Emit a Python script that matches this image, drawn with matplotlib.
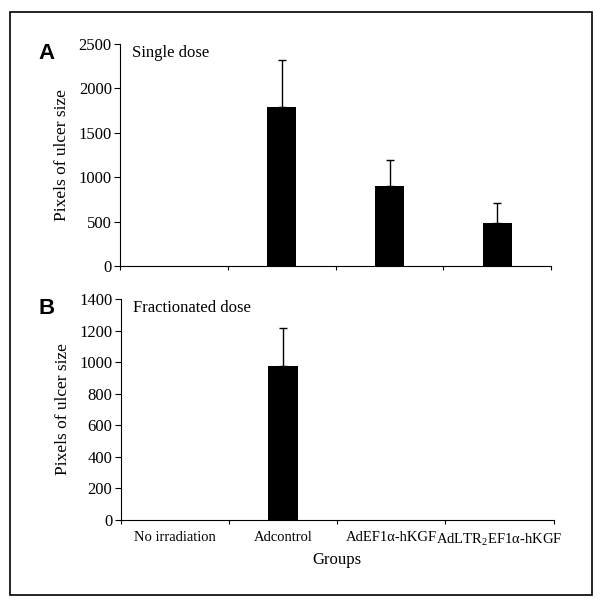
import numpy as np
from matplotlib import pyplot as plt
from matplotlib.patches import Rectangle

plt.rcParams["font.family"] = ["Liberation Serif", "DejaVu Serif"]
plt.rcParams["mathtext.fontset"] = "custom"
plt.rcParams["mathtext.rm"] = "Liberation Serif"

groups = ["No irradiation", "Adcontrol", "AdEF1α-hKGF", r"AdLTR$_2$EF1α-hKGF"]
single_mean = [0, 1790, 900, 485]
single_err = [0, 525, 295, 220]
fract_mean = [0, 978, 0, 0]
fract_err = [0, 238, 0, 0]


def plot_panel(ax, means, errs, ymax, ystep, title, letter, show_labels):
    """
    Draws one bar panel with upper-only error bars.
    """
    x = np.arange(len(groups))
    shown = [i for i, m in enumerate(means) if m > 0]
    ax.bar(x[shown], [means[i] for i in shown], width=0.27, color="black")
    ax.errorbar(x[shown], [means[i] for i in shown],
                yerr=[[0] * len(shown), [errs[i] for i in shown]],
                fmt="none", ecolor="black", elinewidth=1, capsize=3, capthick=1)
    ax.set_xlim(-0.5, len(groups) - 0.5)
    ax.set_ylim(0, ymax)
    ax.set_yticks(np.arange(0, ymax + 1, ystep))
    ax.tick_params(axis="y", labelsize=12, direction="out", length=4, pad=2)
    ax.set_xticks(np.arange(len(groups) + 1) - 0.5)
    ax.set_xticklabels([])
    ax.tick_params(axis="x", direction="out", length=3)
    if show_labels:
        ax.set_xticks(x, minor=True)
        ax.set_xticklabels(groups, minor=True, fontsize=10.5)
        ax.tick_params(axis="x", which="minor", length=0, pad=8)
        ax.set_xlabel("Groups", fontsize=12, labelpad=3)
    for side in ["top", "right"]:
        ax.spines[side].set_visible(False)
    ax.set_ylabel("Pixels of ulcer size", fontsize=12.5, labelpad=6)
    ax.text(0.028, 0.995, title, transform=ax.transAxes, fontsize=12,
            va="top", ha="left")
    ax.text(-0.19, 1.005, letter, transform=ax.transAxes, fontsize=16,
            fontweight="bold", family="Liberation Sans", va="top", ha="left")


fig = plt.figure(figsize=(6.01, 6.07), dpi=100)
ax1 = fig.add_axes([0.200, 0.5618, 0.717, 0.3657])
ax2 = fig.add_axes([0.201, 0.1433, 0.720, 0.364])

plot_panel(ax1, single_mean, single_err, 2500, 500, "Single dose", "A", False)
plot_panel(ax2, fract_mean, fract_err, 1400, 200, "Fractionated dose", "B", True)

fig.patches.append(Rectangle((10 / 601, 1 - 595 / 607), 582 / 601, 583 / 607,
                             transform=fig.transFigure, fill=False,
                             edgecolor="black", linewidth=1.2))

fig.savefig("out.png", dpi=100)
